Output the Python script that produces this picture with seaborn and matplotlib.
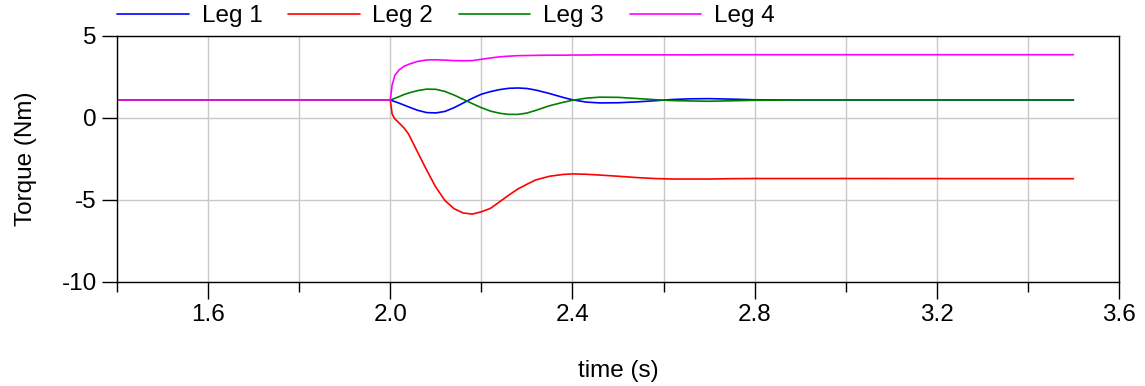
import numpy as np
import pandas as pd
import matplotlib
matplotlib.use("Agg")
import matplotlib.pyplot as plt
from matplotlib.ticker import FixedLocator
import seaborn as sns

# ---- data ----
time = [1.4, 2.0, 2.004, 2.01, 2.02, 2.03, 2.04, 2.06, 2.08, 2.10, 2.12, 2.14, 2.16,
        2.18, 2.20, 2.22, 2.24, 2.26, 2.28, 2.30, 2.32, 2.35, 2.38, 2.40, 2.43, 2.46,
        2.50, 2.54, 2.58, 2.62, 2.66, 2.70, 2.75, 2.80, 2.90, 3.0, 3.5]

leg1 = [1.1, 1.1, 1.06, 1.0, 0.9, 0.79, 0.68, 0.47, 0.33, 0.31, 0.40, 0.63, 0.91,
        1.20, 1.45, 1.61, 1.73, 1.81, 1.83, 1.80, 1.70, 1.49, 1.25, 1.11, 0.97, 0.92,
        0.93, 0.98, 1.05, 1.13, 1.17, 1.18, 1.15, 1.11, 1.10, 1.10, 1.10]

leg2 = [1.1, 1.1, 0.25, -0.05, -0.32, -0.6, -0.97, -2.08, -3.18, -4.22, -5.03, -5.53, -5.79,
        -5.86, -5.72, -5.51, -5.11, -4.71, -4.33, -4.04, -3.77, -3.55, -3.44, -3.41, -3.43, -3.48,
        -3.55, -3.63, -3.69, -3.72, -3.72, -3.72, -3.70, -3.69, -3.69, -3.69, -3.70]

leg3 = [1.1, 1.1, 1.14, 1.2, 1.31, 1.43, 1.52, 1.67, 1.76, 1.75, 1.62, 1.40, 1.14,
        0.88, 0.63, 0.42, 0.29, 0.22, 0.22, 0.30, 0.47, 0.75, 0.96, 1.08, 1.21, 1.27,
        1.26, 1.19, 1.12, 1.06, 1.04, 1.02, 1.05, 1.08, 1.10, 1.10, 1.10]

leg4 = [1.1, 1.1, 2.0, 2.6, 2.95, 3.15, 3.27, 3.45, 3.54, 3.55, 3.53, 3.50, 3.49,
        3.50, 3.58, 3.66, 3.73, 3.77, 3.80, 3.81, 3.82, 3.83, 3.83, 3.84, 3.84, 3.85,
        3.85, 3.85, 3.85, 3.85, 3.85, 3.86, 3.86, 3.86, 3.86, 3.86, 3.86]

series_names = ["Leg 1", "Leg 2", "Leg 3", "Leg 4"]
series_colors = ["#0000ff", "#ff0000", "#008000", "#ff00ff"]

x_major = [1.6, 2.0, 2.4, 2.8, 3.2, 3.6]
x_minor = [1.4, 1.8, 2.2, 2.6, 3.0, 3.4]
y_ticks = [-10, -5, 0, 5]

# ---- build long-form table ----
frames = []
for name, vals in zip(series_names, [leg1, leg2, leg3, leg4]):
    frames.append(pd.DataFrame({"time": time, "value": vals, "series": name}))
df = pd.concat(frames, ignore_index=True)

sns.set_theme(style="white")
plt.rcParams["font.family"] = ["Liberation Sans", "DejaVu Sans"]
plt.rcParams["text.color"] = "black"
plt.rcParams["axes.labelcolor"] = "black"
plt.rcParams["xtick.color"] = "black"
plt.rcParams["ytick.color"] = "black"
FS = 17.5

fig = plt.figure(figsize=(11.45, 3.86), dpi=100)
ax = fig.add_axes([117 / 1145, 1 - 282 / 386, (1119 - 117) / 1145, (282 - 36) / 386])

sns.lineplot(data=df, x="time", y="value", hue="series", hue_order=series_names,
             palette=series_colors, linewidth=1.2, ax=ax, sort=False, estimator=None)

ax.set_xlim(1.4, 3.6)
ax.set_ylim(-10, 5)
ax.xaxis.set_major_locator(FixedLocator(x_major))
ax.xaxis.set_minor_locator(FixedLocator(x_minor))
ax.set_xticklabels([f"{v:.1f}" for v in x_major])
ax.yaxis.set_major_locator(FixedLocator(y_ticks))
ax.set_yticklabels([str(v) for v in y_ticks])

ax.grid(True, which="both", axis="x", color="#c8c8c8", linewidth=1.0)
ax.grid(True, which="major", axis="y", color="#c8c8c8", linewidth=1.0)
ax.set_axisbelow(True)

ax.tick_params(axis="x", which="major", direction="out", length=12, width=1.0,
               color="black", labelcolor="black", labelsize=FS, pad=4, bottom=True)
ax.tick_params(axis="x", which="minor", direction="out", length=7, width=1.0,
               color="black", bottom=True)
ax.tick_params(axis="y", which="major", direction="out", length=11, width=1.0,
               color="black", labelcolor="black", labelsize=FS, pad=3.5, left=True)

for s in ax.spines.values():
    s.set_color("black")
    s.set_linewidth(1.0)

ax.set_xlabel("time (s)", fontsize=FS, labelpad=24, color="black")
ax.set_ylabel("Torque (Nm)", fontsize=FS, labelpad=18, color="black")

handles, labels = ax.get_legend_handles_labels()
ax.get_legend().remove()
leg = fig.legend(handles, labels, loc="upper left", bbox_to_anchor=(117 / 1145, 1 - 5 / 386),
                 ncol=4, frameon=False, fontsize=FS, handlelength=2.95, handletextpad=0.53,
                 columnspacing=1.05, borderpad=0, borderaxespad=0)
for t in leg.get_texts():
    t.set_color("black")

fig.savefig("out.png", dpi=100)
